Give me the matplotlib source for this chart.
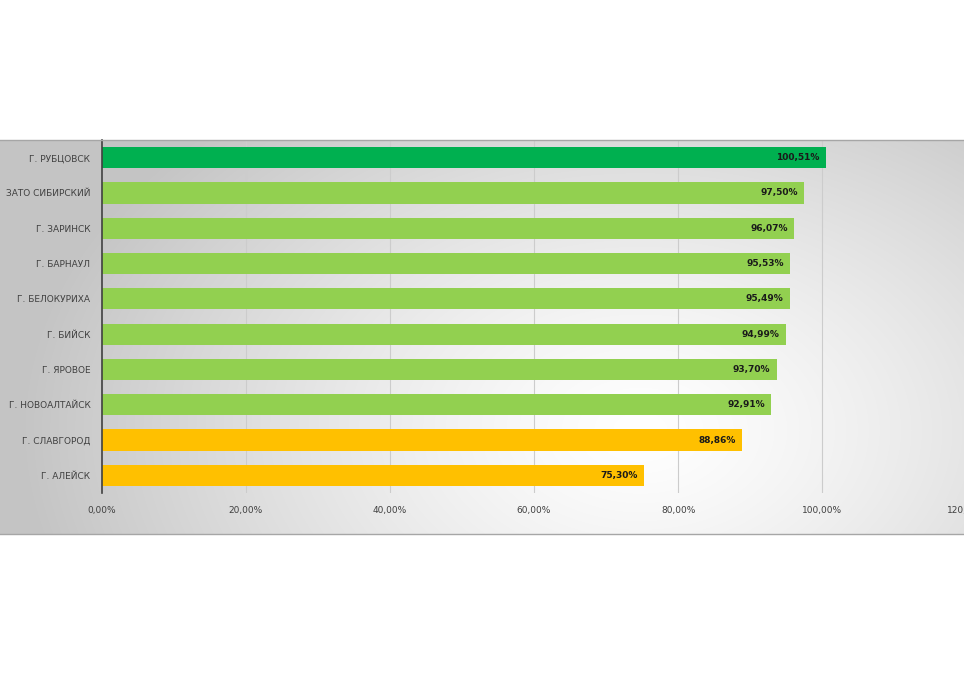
import numpy as np
import matplotlib
matplotlib.use("Agg")
import matplotlib.pyplot as plt

# data (top to bottom as shown)
cities = ["Г. РУБЦОВСК", "ЗАТО СИБИРСКИЙ", "Г. ЗАРИНСК", "Г. БАРНАУЛ", "Г. БЕЛОКУРИХА",
          "Г. БИЙСК", "Г. ЯРОВОЕ", "Г. НОВОАЛТАЙСК", "Г. СЛАВГОРОД", "Г. АЛЕЙСК"]
values = [100.51, 97.50, 96.07, 95.53, 95.49, 94.99, 93.70, 92.91, 88.86, 75.30]
labels = ["100,51%", "97,50%", "96,07%", "95,53%", "95,49%",
          "94,99%", "93,70%", "92,91%", "88,86%", "75,30%"]
colors = ["#00B050"] + ["#92D050"] * 7 + ["#FFC000"] * 2
xticks = [0, 20, 40, 60, 80, 100, 120]
xticklabels = ["0,00%", "20,00%", "40,00%", "60,00%", "80,00%", "100,00%", "120,00%"]

W, H = 964, 673
fig = plt.figure(figsize=(W / 100, H / 100), dpi=100)
fig.patch.set_facecolor("white")

# gray panel with radial gradient
p_top, p_bot = 140, 534
bg = fig.add_axes([0, 1 - p_bot / H, 1, (p_bot - p_top) / H])
gx, gy = np.meshgrid(np.arange(W), np.arange(p_top, p_bot))
d = np.sqrt(((gx - 640) / 620.0) ** 2 + ((gy - 430) / 420.0) ** 2)
shade = 1.0 - 0.23 * np.clip(d, 0, 1) ** 1.3
img = np.dstack([shade, shade, shade])
bg.imshow(img, aspect="auto", extent=[0, 1, 0, 1], interpolation="bilinear")
bg.set_xlim(0, 1)
bg.set_ylim(0, 1)
bg.axis("off")
fig.add_artist(plt.Line2D([0, 1], [1 - p_top / H, 1 - p_top / H], color="#a6a6a6", lw=1))
fig.add_artist(plt.Line2D([0, 1], [1 - p_bot / H, 1 - p_bot / H], color="#a6a6a6", lw=1))

# plot area: 0% at x=101, 120% at x=966, rows from y=140 to y=493
x0, x1 = 101.5, 966.5
y_top, y_bot = 140, 493
ax = fig.add_axes([x0 / W, 1 - y_bot / H, (x1 - x0) / W, (y_bot - y_top) / H])
ax.set_facecolor("none")

y = np.arange(len(cities))
ax.barh(y, values, height=0.6, color=colors, zorder=3)
for yi, v, lab in zip(y, values, labels):
    ax.text(v - 0.9, yi, lab, ha="right", va="center", fontsize=6.5,
            fontweight="bold", color="#1a1a1a", zorder=4)

ax.set_xlim(0, 120)
ax.set_ylim(len(cities) - 0.5, -0.5)
ax.set_yticks(y)
ax.set_yticklabels(cities, fontsize=6.5, color="#404040")
ax.set_xticks(xticks)
ax.set_xticklabels(xticklabels, fontsize=6.5, color="#404040")
ax.tick_params(axis="both", length=0)
ax.tick_params(axis="y", pad=8)
ax.tick_params(axis="x", pad=9)
ax.xaxis.grid(True, color="#cccccc", lw=0.8, zorder=0)
for s in ["top", "right", "bottom"]:
    ax.spines[s].set_visible(False)
ax.spines["left"].set_color("#404040")
ax.spines["left"].set_linewidth(1.2)
ax.spines["left"].set_zorder(5)

fig.savefig("out.png", dpi=100)
